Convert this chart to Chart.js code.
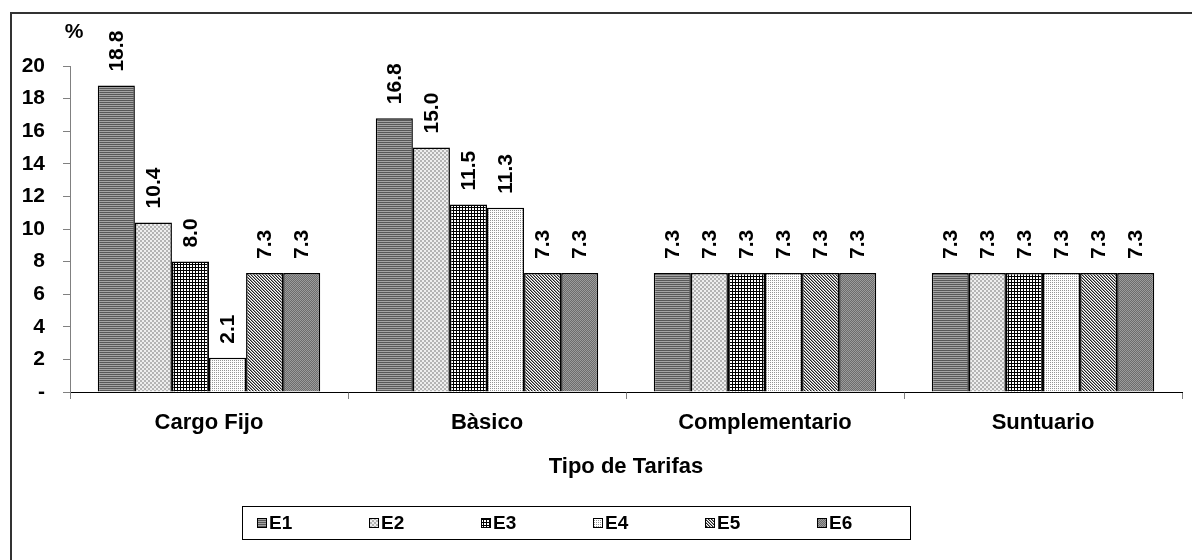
<!DOCTYPE html>
<html>
<head>
<meta charset="utf-8">
<script src="https://cdn.jsdelivr.net/npm/chart.js@4"></script>
<style>
  body { margin: 0; background: #ffffff; overflow: hidden; }
  #wrap { position: relative; width: 1192px; height: 560px; }
</style>
</head>
<body>
<div id="wrap"><canvas id="myChart"></canvas></div>
<script>
const categories = ['Cargo Fijo', 'Bàsico', 'Complementario', 'Suntuario'];
const seriesNames = ['E1', 'E2', 'E3', 'E4', 'E5', 'E6'];
const e1 = [18.8, 16.8, 7.3, 7.3];
const e2 = [10.4, 15.0, 7.3, 7.3];
const e3 = [8.0, 11.5, 7.3, 7.3];
const e4 = [2.1, 11.3, 7.3, 7.3];
const e5 = [7.3, 7.3, 7.3, 7.3];
const e6 = [7.3, 7.3, 7.3, 7.3];
const yTicks = [0, 2, 4, 6, 8, 10, 12, 14, 16, 18, 20];

const FONT = "'Liberation Sans', Arial, sans-serif";

// small tiles for the excel-like fill patterns
function makePattern(w, h, drawFn) {
    const c = document.createElement('canvas');
    c.width = w;
    c.height = h;
    const g = c.getContext('2d');
    drawFn(g);
    return document.createElement('canvas').getContext('2d').createPattern(c, 'repeat');
}
function px(g, x, y, col) {
    g.fillStyle = col;
    g.fillRect(x, y, 1, 1);
}

const patterns = [
    // E1 horizontal stripes
    makePattern(2, 2, g => {
        g.fillStyle = '#585858'; g.fillRect(0, 0, 2, 1);
        g.fillStyle = '#a4a4a4'; g.fillRect(0, 1, 2, 1);
    }),
    // E2 light checker
    makePattern(4, 4, g => {
        g.fillStyle = '#eeeeee'; g.fillRect(0, 0, 4, 4);
        g.fillStyle = '#b4b4b4'; g.fillRect(0, 0, 2, 2); g.fillRect(2, 2, 2, 2);
    }),
    // E3 black grid
    makePattern(3, 3, g => {
        g.fillStyle = '#ffffff'; g.fillRect(0, 0, 3, 3);
        g.fillStyle = '#000000'; g.fillRect(0, 0, 3, 1); g.fillRect(0, 0, 1, 3);
    }),
    // E4 sparse dots
    makePattern(2, 2, g => {
        g.fillStyle = '#ffffff'; g.fillRect(0, 0, 2, 2);
        px(g, 0, 0, '#969696');
    }),
    // E5 diagonal hatch
    makePattern(3, 3, g => {
        g.fillStyle = '#ffffff'; g.fillRect(0, 0, 3, 3);
        for (let i = 0; i < 3; i++) {
            px(g, i, i, '#202020');
            px(g, (i + 1) % 3, i, '#9a9a9a');
        }
    }),
    // E6 dark checker
    makePattern(2, 2, g => {
        g.fillStyle = '#6c6c6c'; g.fillRect(0, 0, 2, 2);
        px(g, 0, 0, '#9c9c9c'); px(g, 1, 1, '#9c9c9c');
    })
];

const allValues = [e1, e2, e3, e4, e5, e6];
const datasets = seriesNames.map((name, i) => ({
    label: name,
    data: allValues[i],
    backgroundColor: patterns[i],
    borderColor: '#000000',
    borderWidth: 1.5,
    borderSkipped: 'start',
    barPercentage: 1.0,
    categoryPercentage: 0.8
}));

// outer frame, % sign and the bordered legend
const decorations = {
    id: 'decorations',
    beforeDraw(chart) {
        const ctx = chart.ctx;
        ctx.save();
        ctx.fillStyle = '#ffffff';
        ctx.fillRect(0, 0, chart.width, chart.height);
        ctx.strokeStyle = '#333333';
        ctx.lineWidth = 2;
        ctx.strokeRect(11, 13, 1400, 1000);
        ctx.restore();
    },
    afterDraw(chart) {
        const ctx = chart.ctx;
        ctx.save();
        ctx.fillStyle = '#000000';
        ctx.font = 'bold 21px ' + FONT;
        ctx.textAlign = 'center';
        ctx.textBaseline = 'middle';
        ctx.fillText('%', 74, 32);

        // legend box
        ctx.strokeStyle = '#000000';
        ctx.lineWidth = 1;
        ctx.strokeRect(242.5, 506.5, 668, 33);
        ctx.font = 'bold 19px ' + FONT;
        ctx.textAlign = 'left';
        chart.data.datasets.forEach((ds, i) => {
            const x = 257 + i * 112;
            ctx.fillStyle = ds.backgroundColor;
            ctx.fillRect(x, 518, 10, 10);
            ctx.strokeRect(x + 0.5, 518.5, 9, 9);
            ctx.fillStyle = '#000000';
            ctx.fillText(ds.label, x + 12, 524);
        });
        ctx.restore();
    },
    afterDatasetsDraw(chart) {
        const ctx = chart.ctx;
        ctx.save();
        ctx.fillStyle = '#000000';
        ctx.font = 'bold 21px ' + FONT;
        ctx.textAlign = 'left';
        ctx.textBaseline = 'middle';
        chart.data.datasets.forEach((ds, i) => {
            chart.getDatasetMeta(i).data.forEach((bar, j) => {
                ctx.save();
                ctx.translate(bar.x + 1, bar.y - 14);
                ctx.rotate(-Math.PI / 2);
                ctx.fillText(ds.data[j].toFixed(1), 0, 0);
                ctx.restore();
            });
        });
        ctx.restore();
    }
};

const ctx = document.getElementById('myChart').getContext('2d');
const chart = new Chart(ctx, {
    type: 'bar',
    data: {
        labels: categories,
        datasets: datasets
    },
    options: {
        responsive: true,
        maintainAspectRatio: false,
        animation: false,
        layout: {
            padding: { left: 0, right: 10, top: 66, bottom: 70 }
        },
        plugins: {
            legend: { display: false },
            tooltip: { enabled: false }
        },
        scales: {
            x: {
                grid: {
                    offset: true,
                    drawOnChartArea: false,
                    drawTicks: true,
                    tickLength: 7,
                    color: '#808080'
                },
                border: { color: '#000000', width: 1 },
                ticks: {
                    color: '#000000',
                    padding: 11,
                    font: { family: FONT, size: 22, weight: 'bold' }
                },
                title: {
                    display: true,
                    text: 'Tipo de Tarifas',
                    color: '#000000',
                    padding: { top: 0, bottom: 10 },
                    font: { family: FONT, size: 22, weight: 'bold' }
                },
                afterFit: scale => { scale.height = 98; }
            },
            y: {
                min: 0,
                max: 20,
                afterBuildTicks: scale => {
                    scale.ticks = yTicks.map(v => ({ value: v }));
                },
                grid: {
                    drawOnChartArea: false,
                    drawTicks: true,
                    tickLength: 7,
                    color: '#808080'
                },
                border: { color: '#808080', width: 1 },
                ticks: {
                    color: '#000000',
                    padding: 18,
                    font: { family: FONT, size: 21, weight: 'bold' },
                    callback: v => v === 0 ? '-' : v
                },
                afterFit: scale => { scale.width = 70; }
            }
        }
    },
    plugins: [decorations]
});
</script>
</body>
</html>
